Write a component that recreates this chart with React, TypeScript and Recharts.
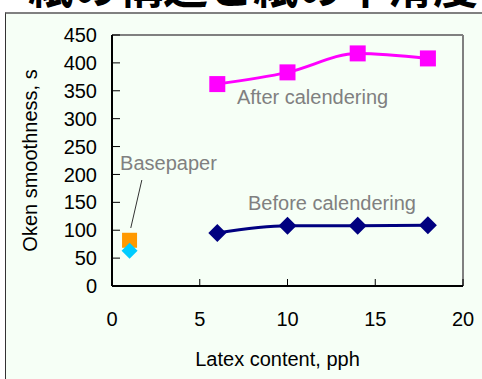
import React from 'react';
import { ComposedChart, Line, XAxis, YAxis, ReferenceLine, ReferenceDot } from 'recharts';

const latex = [6, 10, 14, 18];
const afterCal = [362, 383, 417, 408];
const beforeCal = [95, 108, 108, 109];
const baseLatex = [1];
const baseAfter = [82];
const baseBefore = [63];
const xTicks = [0, 5, 10, 15, 20];
const yTicks = [0, 50, 100, 150, 200, 250, 300, 350, 400, 450];
const titleText = '紙の構造と紙の平滑度';

const afterData = latex.map((x, i) => ({ x, y: afterCal[i] }));
const beforeData = latex.map((x, i) => ({ x, y: beforeCal[i] }));
const baseAfterData = baseLatex.map((x, i) => ({ x, y: baseAfter[i] }));
const baseBeforeData = baseLatex.map((x, i) => ({ x, y: baseBefore[i] }));

const FONT = '"Liberation Sans", Arial, sans-serif';

const square = (color: string, s: number) => (p: any) => (
  <rect key={p.key ?? `${p.cx}-${p.cy}`} x={p.cx - s / 2} y={p.cy - s / 2} width={s} height={s} fill={color} />
);
const diamond = (color: string, s: number) => (p: any) => (
  <polygon
    key={p.key ?? `${p.cx}-${p.cy}`}
    points={`${p.cx},${p.cy - s / 2} ${p.cx + s / 2},${p.cy} ${p.cx},${p.cy + s / 2} ${p.cx - s / 2},${p.cy}`}
    fill={color}
  />
);

const AnnoText = (props: any) => {
  const vb = props.viewBox || {};
  return (
    <text x={vb.x} y={vb.y} fill="#808080" fontSize={20} fontFamily={FONT} textAnchor="start">
      {props.text}
    </text>
  );
};

const XTitle = (props: any) => {
  const vb = props.viewBox || {};
  return (
    <text x={vb.x + vb.width / 2 - 10} y={vb.y + 80} fill="#000" fontSize={20} fontFamily={FONT} textAnchor="middle">
      Latex content, pph
    </text>
  );
};

const YTitle = (props: any) => {
  const vb = props.viewBox || {};
  const cx = 37;
  const cy = vb.y + vb.height / 2;
  return (
    <text x={cx} y={cy} transform={`rotate(-90 ${cx} ${cy})`} fill="#000" fontSize={20} fontFamily={FONT} textAnchor="middle">
      Oken smoothness, s
    </text>
  );
};

export default function App() {
  return (
    <div style={{ position: 'fixed', left: 0, top: 0, width: 482, height: 379, background: '#fff', overflow: 'hidden' }}>
      <div
        style={{
          position: 'absolute',
          left: 5,
          top: 12,
          width: 500,
          height: 400,
          background: '#f6fff6',
          borderLeft: '1px solid #333',
          borderTop: '2px solid #808080',
        }}
      />
      <svg style={{ position: 'absolute', left: 0, top: 0 }} width={482} height={12}>
        <text x={28} y={4} fontSize={45} fontWeight="bold" fontFamily='"Noto Sans CJK JP", sans-serif' fill="#000">
          {titleText}
        </text>
      </svg>
      <div style={{ position: 'absolute', left: 0, top: 0 }}>
        <ComposedChart width={482} height={379} margin={{ top: 35, right: 19, left: 0, bottom: 0 }}>
          <XAxis
            type="number"
            dataKey="x"
            domain={[0, 20]}
            ticks={xTicks}
            interval={0}
            allowDataOverflow
            height={93}
            axisLine={{ stroke: '#000', strokeWidth: 2 }}
            tickLine={{ stroke: '#000', strokeWidth: 1 }}
            tickSize={-7}
            tickMargin={33}
            tick={{ fill: '#000', fontSize: 20, fontFamily: FONT }}
            label={<XTitle />}
          />
          <YAxis
            type="number"
            dataKey="y"
            domain={[0, 450]}
            ticks={yTicks}
            interval={0}
            allowDataOverflow
            width={112}
            axisLine={{ stroke: '#000', strokeWidth: 2 }}
            tickLine={{ stroke: '#000', strokeWidth: 1 }}
            tickSize={-8}
            tickMargin={23}
            tick={{ fill: '#000', fontSize: 20, fontFamily: FONT }}
            label={<YTitle />}
          />
          <ReferenceLine y={450} stroke="#808080" strokeWidth={2} />
          <ReferenceLine x={20} stroke="#808080" strokeWidth={2} />
          <ReferenceLine
            segment={[{ x: 1.7, y: 190 }, { x: 1.07, y: 104 }]}
            stroke="#333"
            strokeWidth={1}
          />
          <Line
            data={afterData}
            dataKey="y"
            type="monotone"
            stroke="#ff00ff"
            strokeWidth={3}
            dot={square('#ff00ff', 16)}
            activeDot={false}
            isAnimationActive={false}
          />
          <Line
            data={beforeData}
            dataKey="y"
            type="monotone"
            stroke="#000080"
            strokeWidth={3}
            dot={diamond('#000080', 18)}
            activeDot={false}
            isAnimationActive={false}
          />
          <Line
            data={baseAfterData}
            dataKey="y"
            stroke="none"
            dot={square('#ff9900', 15)}
            activeDot={false}
            isAnimationActive={false}
          />
          <Line
            data={baseBeforeData}
            dataKey="y"
            stroke="none"
            dot={diamond('#00ccff', 16)}
            activeDot={false}
            isAnimationActive={false}
          />
          <ReferenceDot x={7.12} y={326} r={0} fill="none" stroke="none" label={<AnnoText text="After calendering" />} />
          <ReferenceDot x={7.75} y={136} r={0} fill="none" stroke="none" label={<AnnoText text="Before calendering" />} />
          <ReferenceDot x={0.46} y={208} r={0} fill="none" stroke="none" label={<AnnoText text="Basepaper" />} />
        </ComposedChart>
      </div>
    </div>
  );
}
